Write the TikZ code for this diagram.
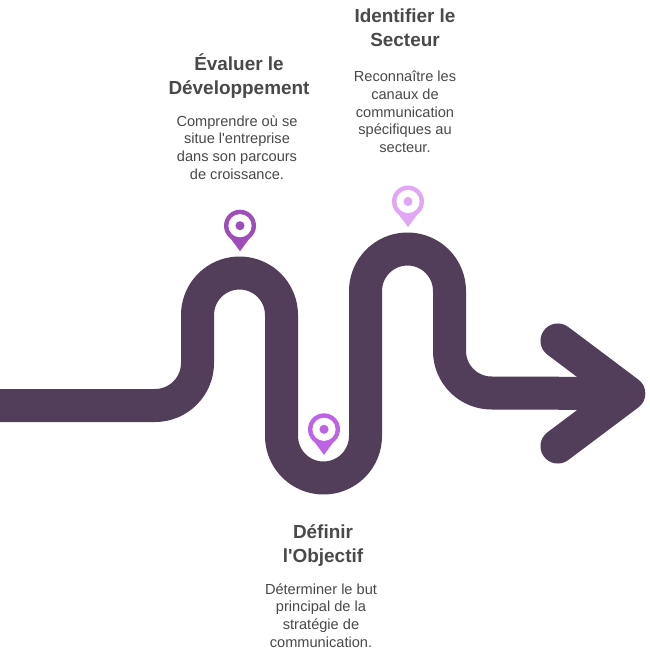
\documentclass[tikz,border=0pt]{standalone}
\usepackage{fontspec}
\setmainfont{Liberation Sans}[Ligatures=TeXOff]
\usetikzlibrary{calc}
\definecolor{road}{HTML}{523E5A}
\definecolor{pina}{HTML}{9E4DBB}
\definecolor{pinb}{HTML}{BE63E3}
\definecolor{pinc}{HTML}{E2A6F6}
\definecolor{ink}{HTML}{494949}
\tikzset{
  x=0.75pt,y=-0.75pt,
  road/.style={draw=road,line width=24.75pt,line join=round},
  head/.style={road,line width=26pt,line cap=round},
  title/.style={align=center,text=ink,font=\fontsize{14.2}{18}\selectfont\bfseries,inner sep=0pt},
  body/.style={align=center,text=ink,font=\fontsize{10.95}{13.3}\selectfont,inner sep=0pt},
}
\newcommand{\mypin}[3]{%
  \fill[#3] ($(#1,#2)+(-11.5,10)$) -- (#1,#2+25.5) -- ($(#1,#2)+(11.5,10)$) -- cycle;
  \fill[#3] (#1,#2) circle[radius=12pt];
  \fill[white] (#1,#2) circle[radius=8.7pt];
  \fill[#3] (#1,#2) circle[radius=3.4pt];
}
\begin{document}
\begin{tikzpicture}
\useasboundingbox (0,0) rectangle (649,652);
\fill[white] (0,0) rectangle (649,652);
\coordinate (start) at (0,405.5);
\coordinate (tip) at (628,393.5);
\coordinate (barbA) at (557.8,340.8);
\coordinate (barbB) at (557.8,446.2);
\draw[road] (start) -- (155,405.5)
  arc[start angle=90,end angle=0,radius=42.5]
  -- (197.5,315) arc[start angle=180,end angle=360,radius=42]
  -- (281.5,436) arc[start angle=180,end angle=0,radius=42]
  -- (365.5,291) arc[start angle=180,end angle=360,radius=42]
  -- (449.5,351) arc[start angle=180,end angle=90,radius=42]
  -- (tip);
\draw[head] (barbA) -- (tip) -- (barbB);
\mypin{240}{225.7}{pina}
\mypin{324}{429.3}{pinb}
\mypin{408}{201.5}{pinc}
\node[title] (t1) at (239,76.5) {Évaluer le\\Développement};
\node[body] (b1) at (237,147.5) {Comprendre où se\\situe l'entreprise\\dans son parcours\\de croissance.};
\node[title] (t2) at (405,28) {Identifier le\\Secteur};
\node[body] (b2) at (405,112) {Reconnaître les\\canaux de\\communication\\spécifiques au\\secteur.};
\node[title] (t3) at (323,545.5) {Définir\\l'Objectif};
\node[body] (b3) at (321,615.5) {Déterminer le but\\principal de la\\stratégie de\\communication.};
\end{tikzpicture}
\end{document}
